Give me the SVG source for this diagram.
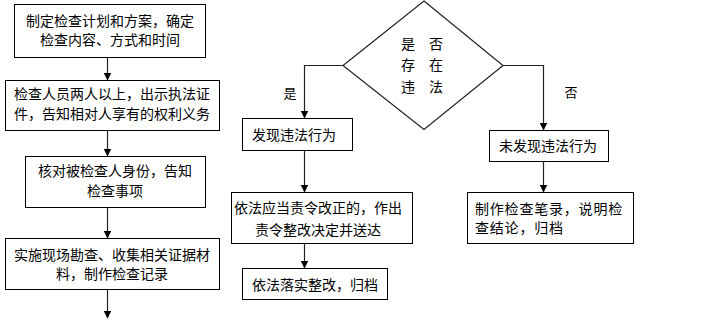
<svg xmlns="http://www.w3.org/2000/svg" width="717" height="335" viewBox="0 0 717 335">
<defs>
<marker id="ah" markerUnits="userSpaceOnUse" markerWidth="8" markerHeight="9" refX="7.5" refY="4" orient="auto">
<path d="M0,0 L8,4 L0,8 Z" fill="#000"/>
</marker>
<style>
.box{fill:#fff;stroke:#000;stroke-width:1}
.t{font-family:"Noto Sans CJK SC","Noto Sans CJK TC",sans-serif;font-size:14px;fill:#000}
.m{text-anchor:middle}
.c{fill:none;stroke:#222;stroke-width:1.2}
.s{font-size:13px}
</style>
</defs>
<rect width="717" height="335" fill="#fff"/>
<g id="connectors">
<line class="c" x1="107.5" y1="57" x2="107.5" y2="80" marker-end="url(#ah)"/>
<line class="c" x1="107.5" y1="130" x2="107.5" y2="156" marker-end="url(#ah)"/>
<line class="c" x1="107.5" y1="207" x2="107.5" y2="238" marker-end="url(#ah)"/>
<line class="c" x1="107.5" y1="289" x2="107.5" y2="318" marker-end="url(#ah)"/>
<polyline class="c" points="343,65.5 304.5,65.5 304.5,118" marker-end="url(#ah)"/>
<line class="c" x1="304.5" y1="150" x2="304.5" y2="192" marker-end="url(#ah)"/>
<line class="c" x1="304.5" y1="243" x2="304.5" y2="268" marker-end="url(#ah)"/>
<polyline class="c" points="503,65.5 543.5,65.5 543.5,130" marker-end="url(#ah)"/>
<line class="c" x1="543.5" y1="161" x2="543.5" y2="192" marker-end="url(#ah)"/>
<text class="t m s" x="290" y="98">是</text>
<text class="t m s" x="571" y="97">否</text>
</g>
<g id="n1">
<rect class="box" x="14.5" y="4.5" width="191" height="53"/>
<text class="t m" x="110" y="26">制定检查计划和方案，确定</text>
<text class="t m" x="110" y="45">检查内容、方式和时间</text>
</g>
<g id="n2">
<rect class="box" x="5.5" y="80.5" width="214" height="50"/>
<text class="t m" x="112" y="99">检查人员两人以上，出示执法证</text>
<text class="t m" x="112" y="119">件，告知相对人享有的权利义务</text>
</g>
<g id="n3">
<rect class="box" x="25.5" y="156.5" width="180" height="51"/>
<text class="t m" x="115" y="176">核对被检查人身份，告知</text>
<text class="t m" x="115" y="196">检查事项</text>
</g>
<g id="n4">
<rect class="box" x="5.5" y="238.5" width="214" height="51"/>
<text class="t m" x="112" y="260">实施现场勘查、收集相关证据材</text>
<text class="t m" x="112" y="279">料，制作检查记录</text>
</g>
<g id="decision">
<polygon points="424,1 503,65.5 424,129.5 343,65.5" fill="#fff" stroke="#222" stroke-width="1.2"/>
<text class="t m" x="408" y="49">是</text>
<text class="t m" x="436" y="49">否</text>
<text class="t m" x="408" y="70">存</text>
<text class="t m" x="436" y="70">在</text>
<text class="t m" x="408" y="92">违</text>
<text class="t m" x="436" y="92">法</text>
</g>
<g id="n5">
<rect class="box" x="242.5" y="118.5" width="110" height="32"/>
<text class="t" x="252" y="140">发现违法行为</text>
</g>
<g id="n6">
<rect class="box" x="231.5" y="192.5" width="181" height="51"/>
<text class="t m" x="318" y="213">依法应当责令改正的，作出</text>
<text class="t m" x="318" y="235">责令整改决定并送达</text>
</g>
<g id="n7">
<rect class="box" x="242.5" y="268.5" width="145" height="31"/>
<text class="t m" x="315" y="290">依法落实整改，归档</text>
</g>
<g id="n8">
<rect class="box" x="489.5" y="130.5" width="119" height="31"/>
<text class="t m" x="548" y="151">未发现违法行为</text>
</g>
<g id="n9">
<rect class="box" x="467.5" y="192.5" width="166" height="51"/>
<text class="t" x="475" y="214" letter-spacing="0.8">制作检查笔录，说明检</text>
<text class="t" x="475" y="233" letter-spacing="0.8">查结论，归档</text>
</g>
</svg>
